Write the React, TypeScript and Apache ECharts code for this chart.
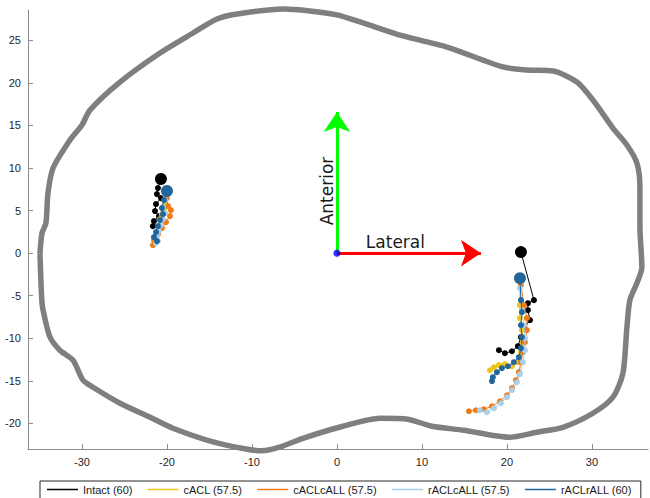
import React, { useEffect, useRef } from "react";
import * as echarts from "echarts";

// ---- axes ----
const xTickValues = [-30, -20, -10, 0, 10, 20, 30];
const yTickValues = [-20, -15, -10, -5, 0, 5, 10, 15, 20, 25];
const xRange = [-36.35, 36.6];
const yRange = [-23.0, 28.55];

// ---- tibial plateau outline ----
const outlineX = [
  -34.94, -34.7, -34.24, -34.0, -33.4, -31.4, -30.0, -29.06, -25.53, -20.82, -16.94, -14.12, -11.76, -6.35,
  -3.18, 0, 3.06, 7.76, 12.94, 19.53, 22.35, 25.41, 28.24, 30.12, 32.47, 34.12, 35.29, 35.65, 35.65, 35.88,
  35.29, 34.47, 34.12, 33.65, 32.47, 30.12, 26.59, 23.53, 20.24, 14.94, 11.18, 8.35, 5.06, 0.71, -4.0, -6.47,
  -8.82, -10.7, -14.47, -19.3, -22.0, -25.53, -28.7, -29.88, -31.06, -32.6, -33.76, -34.4, -34.7, -34.94,
];
const outlineY = [
  0, 2.35, 3.53, 7.05, 10.0, 13.3, 15.04, 16.8, 20.09, 23.5, 25.85, 27.5, 28.08, 28.67,
  28.44, 27.97, 27.03, 25.5, 24.2, 21.86, 21.5, 21.39, 20.09, 17.98, 14.69, 12.69, 10.58, 7.76, 3.06, -1.65,
  -3.53, -5.52, -8.7, -14.1, -16.92, -18.8, -20.45, -21.03, -21.62, -20.8, -20.33, -19.5, -19.39, -20.33, -21.74, -22.68,
  -23.2, -23.0, -22.2, -20.56, -19.27, -17.63, -15.75, -14.92, -12.57, -11.4, -9.87, -7.5, -5.88, 0,
];

// ---- reference arrows (data units) ----
const anteriorArrowEnd = [0, 16.56];
const lateralArrowEnd = [16.94, 0];
const anteriorLabelAt = [-1.18, 7.29];
const lateralLabelAt = [6.88, 1.35];

// ---- series ----
const seriesNames = ["Intact (60)", "cACL (57.5)", "cACLcALL (57.5)", "rACLcALL (57.5)", "rACLrALL (60)"];
const seriesColors = ["#000000", "#EFC31A", "#F07C19", "#A9CFEA", "#22679C"];

// medial (left) compartment
const intactMedX = [-20.71, -21.06, -21.18, -20.71, -21.29, -21.41, -20.94, -21.53, -21.65];
const intactMedY = [8.7, 7.64, 6.93, 6.46, 5.76, 4.94, 4.35, 3.76, 3.17];
const cAclMedX = [-20.12, -20.24, -20.35, -20.59, -20.82, -20.94];
const cAclMedY = [6.7, 5.76, 5.17, 4.58, 4.0, 3.17];
const cAclcAllMedX = [-20.0, -19.88, -19.53, -19.65, -20.12, -20.59, -21.06, -21.53, -21.65];
const cAclcAllMedY = [6.46, 5.52, 5.05, 4.35, 3.64, 2.94, 2.23, 1.53, 0.94];
const rAclcAllMedX = [-20.24, -20.47, -20.24, -20.47, -20.71, -20.94, -21.18, -21.06, -21.29];
const rAclcAllMedY = [6.23, 5.41, 4.7, 4.0, 3.29, 2.59, 2.0, 1.41, 1.18];
const rAclrAllMedX = [-20.0, -20.35, -20.59, -20.47, -20.82, -21.06, -21.29, -21.53, -21.18];
const rAclrAllMedY = [7.29, 6.23, 5.29, 4.58, 3.88, 3.17, 2.47, 1.88, 1.41];

// lateral (right) compartment
const intactLatX = [21.65, 23.18, 22.47, 22.47, 22.71, 22.0, 21.65, 21.29, 20.59, 19.76, 19.06];
const intactLatY = [0.12, -5.52, -5.88, -6.7, -7.87, -8.81, -9.87, -10.93, -11.52, -11.75, -11.4];
const cAclLatX = [21.53, 21.53, 21.53, 21.76, 21.88, 21.65, 21.29, 20.59, 19.76, 19.06, 18.47, 18.0];
const cAclLatY = [-3.41, -6.11, -7.64, -9.05, -10.46, -11.63, -12.81, -13.28, -13.04, -13.16, -13.4, -13.75];
const cAclcAllLatX = [21.65, 22.0, 22.35, 22.35, 22.12, 21.88, 21.65, 21.41, 21.06, 20.59, 20.0, 19.18, 18.24, 17.29, 16.35, 15.53];
const cAclcAllLatY = [-3.76, -6.11, -7.64, -9.05, -10.46, -11.63, -12.81, -13.98, -14.92, -15.86, -16.69, -17.39, -17.98, -18.33, -18.45, -18.57];
const rAclcAllLatX = [21.53, 21.76, 22.0, 22.12, 22.12, 21.88, 21.53, 21.18, 20.59, 20.0, 19.29, 18.47, 17.65, 16.82];
const rAclcAllLatY = [-4.11, -6.7, -8.46, -9.99, -11.4, -12.81, -14.22, -15.16, -16.1, -16.92, -17.63, -18.21, -18.68, -18.45];
const rAclrAllLatX = [21.53, 21.65, 21.76, 21.65, 21.76, 21.65, 21.41, 20.82, 20.12, 19.41, 18.82, 18.35, 18.24];
const rAclrAllLatY = [-2.94, -5.52, -6.93, -8.46, -9.87, -11.16, -12.22, -12.81, -13.28, -13.51, -13.98, -14.57, -15.04];

const seriesParts = [
  [[intactMedX, intactMedY], [intactLatX, intactLatY]],
  [[cAclMedX, cAclMedY], [cAclLatX, cAclLatY]],
  [[cAclcAllMedX, cAclcAllMedY], [cAclcAllLatX, cAclcAllLatY]],
  [[rAclcAllMedX, rAclcAllMedY], [rAclcAllLatX, rAclcAllLatY]],
  [[rAclrAllMedX, rAclrAllMedY], [rAclrAllLatX, rAclrAllLatY]],
];
const bigFirstMarker = [true, false, false, false, true];

const zip = (xs: number[], ys: number[]) => xs.map((x, i) => [x, ys[i]]);

export default function App() {
  const ref = useRef<HTMLDivElement>(null);

  useEffect(() => {
    if (!ref.current) return;
    const chart = echarts.init(ref.current, undefined, { renderer: "svg" });

    const dataSeries: any[] = [];
    seriesParts.forEach((parts, si) => {
      parts.forEach(([xs, ys]) => {
        dataSeries.push({
          type: "line",
          name: seriesNames[si],
          data: zip(xs as number[], ys as number[]),
          symbol: "circle",
          symbolSize: (_v: any, p: any) => (bigFirstMarker[si] && p.dataIndex === 0 ? 12 : 6),
          showSymbol: true,
          showAllSymbol: true,
          lineStyle: { color: seriesColors[si], width: 1 },
          itemStyle: { color: seriesColors[si], borderWidth: 0 },
          emphasis: { disabled: true },
          silent: true,
          z: 5 + si,
        });
      });
    });

    chart.setOption({
      animation: false,
      grid: { left: 28, top: 10, width: 620, height: 439, outerBoundsMode: "none" },
      xAxis: {
        type: "value",
        min: xRange[0],
        max: xRange[1],
        splitLine: { show: false },
        axisLine: { show: true, onZero: false, lineStyle: { color: "#8c8c8c", width: 1 } },
        axisTick: { show: true, inside: true, length: 5, lineStyle: { color: "#8c8c8c" }, customValues: xTickValues },
        axisLabel: {
          customValues: xTickValues,
          color: "#262626",
          fontSize: 11,
          fontFamily: "Liberation Sans",
          margin: 7,
        },
      },
      yAxis: {
        type: "value",
        min: yRange[0],
        max: yRange[1],
        splitLine: { show: false },
        axisLine: { show: true, onZero: false, lineStyle: { color: "#8c8c8c", width: 1 } },
        axisTick: { show: true, inside: true, length: 5, lineStyle: { color: "#8c8c8c" }, customValues: yTickValues },
        axisLabel: {
          customValues: yTickValues,
          color: "#262626",
          fontSize: 11,
          fontFamily: "Liberation Sans",
          margin: 7,
        },
      },
      legend: {
        data: seriesNames.map((n) => ({ name: n, icon: "path://M0,0H62V3H0Z" })),
        left: 40,
        top: 481,
        orient: "horizontal",
        itemWidth: 31,
        itemHeight: 14,
        itemGap: 15,
        padding: [3, 9, 6, 7],
        borderColor: "#262626",
        borderWidth: 1,
        selectedMode: false,
        itemStyle: { borderWidth: 0 },
        textStyle: { fontSize: 11, color: "#1a1a1a", fontFamily: "Liberation Sans", padding: [0, 0, 0, 0] },
      },
      series: [
        {
          type: "line",
          name: "outline",
          data: zip(outlineX, outlineY),
          showSymbol: false,
          smooth: 0.25,
          clip: false,
          lineStyle: { color: "#7f7f7f", width: 5.5 },
          emphasis: { disabled: true },
          silent: true,
          z: 1,
        },
        {
          type: "lines",
          coordinateSystem: "cartesian2d",
          symbol: ["none", "arrow"],
          symbolSize: 20,
          silent: true,
          lineStyle: { color: "#00ff00", width: 3, opacity: 1, curveness: 0 },
          data: [{ coords: [[0, 0], anteriorArrowEnd] }],
          z: 3,
        },
        {
          type: "lines",
          coordinateSystem: "cartesian2d",
          symbol: ["none", "arrow"],
          symbolSize: 20,
          silent: true,
          lineStyle: { color: "#ff0000", width: 3, opacity: 1, curveness: 0 },
          data: [{ coords: [[0, 0], lateralArrowEnd] }],
          z: 3,
        },
        {
          type: "scatter",
          data: [[0, 0]],
          symbolSize: 7,
          itemStyle: { color: "#0000ff" },
          silent: true,
          z: 4,
        },
        ...dataSeries,
      ],
    });

    const pa = chart.convertToPixel({ gridIndex: 0 }, anteriorLabelAt) as number[];
    const pl = chart.convertToPixel({ gridIndex: 0 }, lateralLabelAt) as number[];
    chart.setOption({
      graphic: [
        {
          type: "text",
          x: pa[0],
          y: pa[1],
          rotation: Math.PI / 2,
          silent: true,
          style: {
            text: "Anterior",
            font: '17px "DejaVu Sans"',
            fill: "#1a1a1a",
            align: "center",
            verticalAlign: "middle",
          },
        },
        {
          type: "text",
          x: pl[0],
          y: pl[1],
          silent: true,
          style: {
            text: "Lateral",
            font: '17px "DejaVu Sans"',
            fill: "#1a1a1a",
            align: "center",
            verticalAlign: "middle",
          },
        },
      ],
    });

    return () => chart.dispose();
  }, []);

  return (
    <div
      ref={ref}
      style={{ position: "fixed", left: 0, top: 0, width: 650, height: 498, background: "#ffffff" }}
    />
  );
}
